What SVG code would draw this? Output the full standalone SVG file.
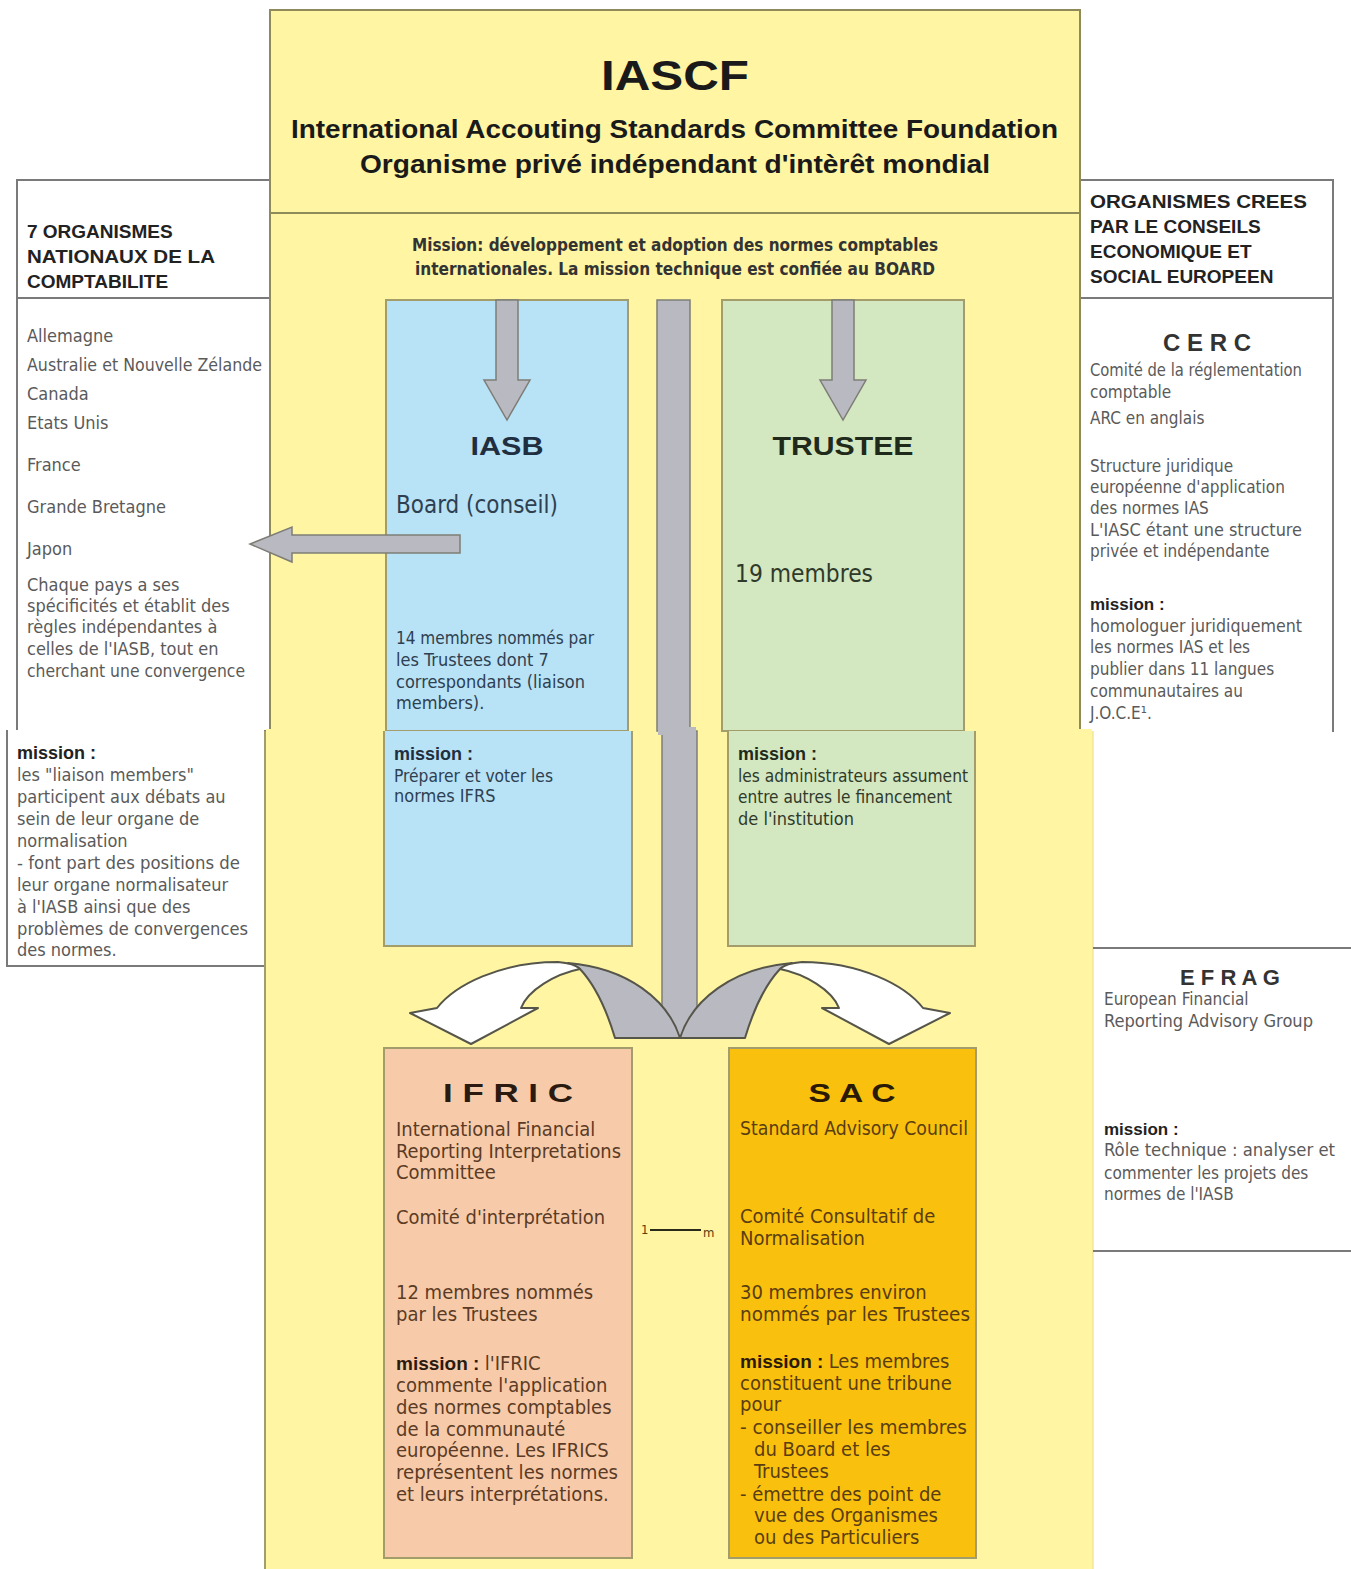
<svg xmlns="http://www.w3.org/2000/svg" width="1351" height="1569" viewBox="0 0 1351 1569">
<style>
.n{font-family:"Liberation Sans Narrow","DejaVu Sans Condensed","Liberation Sans",sans-serif}
.w{font-family:"Liberation Sans","DejaVu Sans",sans-serif}
.b{font-weight:bold}
.pan{fill:#fff;stroke:#7a7a7a;stroke-width:2}
.ph{fill:#222;font-size:19px}
.pb{fill:#5a5a5a;font-size:18px}
.ps{fill:#5a5a5a;font-size:17px}
.box{stroke:#a39d6c;stroke-width:2}
.arr{fill:#b9b9c1;stroke:#7d7d76;stroke-width:1.5}
.rib{fill:#ffffff;stroke:#55554a;stroke-width:2;stroke-linejoin:round}
.ribg{fill:#b9b9c1;stroke:#55554a;stroke-width:2;stroke-linejoin:round}
</style>
<rect width="1351" height="1569" fill="#fff"/>

<!-- left panel (nationaux) -->
<g id="nationaux">
<rect class="pan" x="17" y="180" width="253" height="551"/>
<line x1="17" y1="298" x2="270" y2="298" stroke="#7a7a7a" stroke-width="2"/>
<path d="M265 731 L7 731 L7 966 L265 966" class="pan"/>
<rect x="8" y="730" width="256" height="3" fill="#fff"/>
<text class="w b ph" x="27" y="238">7 ORGANISMES</text>
<text class="w b ph" x="27" y="263" textLength="188" lengthAdjust="spacingAndGlyphs">NATIONAUX DE LA</text>
<text class="w b ph" x="27" y="288">COMPTABILITE</text>
<g class="n pb">
<text x="27" y="342">Allemagne</text>
<text x="27" y="371" textLength="235" lengthAdjust="spacingAndGlyphs">Australie et Nouvelle Zélande</text>
<text x="27" y="400">Canada</text>
<text x="27" y="429">Etats Unis</text>
<text x="27" y="471">France</text>
<text x="27" y="513">Grande Bretagne</text>
<text x="27" y="555">Japon</text>
<text x="27" y="591">Chaque pays a ses</text>
<text x="27" y="612">spécificités et établit des</text>
<text x="27" y="633">règles indépendantes à</text>
<text x="27" y="655">celles de l'IASB, tout en</text>
<text x="27" y="677" textLength="218" lengthAdjust="spacingAndGlyphs">cherchant une convergence</text>
</g>
<g class="n pb">
<text x="17" y="759" class="w b" style="fill:#222;font-size:18px">mission :</text>
<text x="17" y="781">les "liaison members"</text>
<text x="17" y="803">participent aux débats au</text>
<text x="17" y="825">sein de leur organe de</text>
<text x="17" y="847">normalisation</text>
<text x="17" y="869" textLength="223" lengthAdjust="spacingAndGlyphs">- font part des positions de</text>
<text x="17" y="891">leur organe normalisateur</text>
<text x="17" y="913">à l'IASB ainsi que des</text>
<text x="17" y="935" textLength="231" lengthAdjust="spacingAndGlyphs">problèmes de convergences</text>
<text x="17" y="956">des normes.</text>
</g>
</g>

<!-- right panel (CERC) -->
<g id="cerc">
<rect class="pan" x="1080" y="180" width="253" height="551"/>
<line x1="1080" y1="298" x2="1333" y2="298" stroke="#7a7a7a" stroke-width="2"/>
<rect x="1081" y="729" width="251" height="4" fill="#fff"/>
<text class="w b ph" x="1090" y="208" textLength="217" lengthAdjust="spacingAndGlyphs">ORGANISMES CREES</text>
<text class="w b ph" x="1090" y="233">PAR LE CONSEILS</text>
<text class="w b ph" x="1090" y="258">ECONOMIQUE ET</text>
<text class="w b ph" x="1090" y="283">SOCIAL EUROPEEN</text>
<text class="w b" x="1207" y="351" text-anchor="middle" style="font-size:24px;fill:#333">C E R C</text>
<g class="n ps">
<text x="1090" y="376" textLength="212" lengthAdjust="spacingAndGlyphs">Comité de la réglementation</text>
<text x="1090" y="398">comptable</text>
<text x="1090" y="424">ARC en anglais</text>
<text x="1090" y="472">Structure juridique</text>
<text x="1090" y="493">européenne d'application</text>
<text x="1090" y="514">des normes IAS</text>
<text x="1090" y="536" textLength="212" lengthAdjust="spacingAndGlyphs">L'IASC étant une structure</text>
<text x="1090" y="557">privée et indépendante</text>
<text x="1090" y="610" class="w b" style="fill:#222;font-size:17px">mission :</text>
<text x="1090" y="632" textLength="212" lengthAdjust="spacingAndGlyphs">homologuer juridiquement</text>
<text x="1090" y="653">les normes IAS et les</text>
<text x="1090" y="675">publier dans 11 langues</text>
<text x="1090" y="697">communautaires au</text>
<text x="1090" y="719">J.O.C.E¹.</text>
</g>
</g>

<!-- main IASCF container -->
<g id="iascf">
<rect x="265" y="731" width="828" height="845" fill="#fff5a3"/>
<line x1="265" y1="731" x2="265" y2="1569" stroke="#a39d6c" stroke-width="2"/>
<line x1="1093" y1="731" x2="1093" y2="1569" stroke="#e6dc8c" stroke-width="1"/>
<rect x="270" y="10" width="810" height="721" fill="#fff5a3" stroke="#8f8a5a" stroke-width="2"/>
<rect x="266" y="729" width="826" height="4" fill="#fff5a3"/>
<line x1="270" y1="213" x2="1080" y2="213" stroke="#8f8a5a" stroke-width="2"/>
<text class="w b" x="675" y="90" text-anchor="middle" textLength="148" lengthAdjust="spacingAndGlyphs" style="font-size:42px;fill:#1a1a1a">IASCF</text>
<text class="w b" x="291" y="138" textLength="767" lengthAdjust="spacingAndGlyphs" style="font-size:25px;fill:#1a1a1a">International Accouting Standards Committee Foundation</text>
<text class="w b" x="360" y="173" textLength="630" lengthAdjust="spacingAndGlyphs" style="font-size:25px;fill:#1a1a1a">Organisme privé indépendant d'intèrêt mondial</text>
<text class="n b" x="412" y="251" textLength="526" lengthAdjust="spacingAndGlyphs" style="font-size:18px;fill:#333">Mission: développement et adoption des normes comptables</text>
<text class="n b" x="415" y="275" textLength="520" lengthAdjust="spacingAndGlyphs" style="font-size:18px;fill:#333">internationales. La mission technique est confiée au BOARD</text>
</g>

<!-- IASB -->
<g id="iasb">
<rect class="box" x="386" y="300" width="242" height="431" fill="#b8e2f6"/>
<path d="M384 731 L384 946 L632 946 L632 731" class="box" fill="#b8e2f6"/>
<text class="w b" x="507" y="455" text-anchor="middle" textLength="73" lengthAdjust="spacingAndGlyphs" style="font-size:25px;fill:#1f2f3f">IASB</text>
<text class="n" x="396" y="513" textLength="162" lengthAdjust="spacingAndGlyphs" style="font-size:25px;fill:#2e4050">Board (conseil)</text>
<g class="n" style="font-size:18px;fill:#2e4050">
<text x="396" y="644" textLength="198" lengthAdjust="spacingAndGlyphs">14 membres nommés par</text>
<text x="396" y="666">les Trustees  dont 7</text>
<text x="396" y="688">correspondants (liaison</text>
<text x="396" y="709">members).</text>
<text x="394" y="760" class="w b" style="fill:#1f2f3f">mission :</text>
<text x="394" y="782" textLength="159" lengthAdjust="spacingAndGlyphs">Préparer et voter les</text>
<text x="394" y="802">normes IFRS</text>
</g>
</g>

<!-- TRUSTEE -->
<g id="trustee">
<rect class="box" x="722" y="300" width="242" height="431" fill="#d3e7c1"/>
<path d="M728 731 L728 946 L975 946 L975 731" class="box" fill="#d3e7c1"/>
<text class="w b" x="843" y="455" text-anchor="middle" textLength="141" lengthAdjust="spacingAndGlyphs" style="font-size:25px;fill:#1f2a1a">TRUSTEE</text>
<text class="n" x="735" y="582" textLength="138" lengthAdjust="spacingAndGlyphs" style="font-size:25px;fill:#2f3a2a">19 membres</text>
<g class="n" style="font-size:18px;fill:#2f3a2a">
<text x="738" y="760" class="w b" style="fill:#1f2a1a">mission :</text>
<text x="738" y="782" textLength="230" lengthAdjust="spacingAndGlyphs">les administrateurs assument</text>
<text x="738" y="803" textLength="214" lengthAdjust="spacingAndGlyphs">entre autres le financement</text>
<text x="738" y="825">de l'institution</text>
</g>
</g>

<!-- EFRAG -->
<g id="efrag">
<line x1="1093" y1="948" x2="1351" y2="948" stroke="#7a7a7a" stroke-width="2"/>
<line x1="1093" y1="1251" x2="1351" y2="1251" stroke="#7a7a7a" stroke-width="2"/>
<rect x="1094" y="949" width="257" height="301" fill="#fff"/>
<text class="w b" x="1230" y="985" text-anchor="middle" style="font-size:22px;fill:#333">E F R A G</text>
<g class="n ps">
<text x="1104" y="1005">European Financial</text>
<text x="1104" y="1027" textLength="209" lengthAdjust="spacingAndGlyphs">Reporting Advisory Group</text>
<text x="1104" y="1135" class="w b" style="fill:#222;font-size:17px">mission :</text>
<text x="1104" y="1156" textLength="231" lengthAdjust="spacingAndGlyphs">Rôle technique : analyser et</text>
<text x="1104" y="1179">commenter les projets des</text>
<text x="1104" y="1200">normes de l'IASB</text>
</g>
</g>

<!-- IFRIC -->
<g id="ifric">
<rect class="box" x="384" y="1048" width="248" height="510" fill="#f7cbaa"/>
<text class="w b" x="508" y="1102" text-anchor="middle" textLength="130" lengthAdjust="spacingAndGlyphs" style="font-size:26px;fill:#2a1a10">I F R I C</text>
<g class="n" style="font-size:20px;fill:#5b3b25">
<text x="396" y="1136">International Financial</text>
<text x="396" y="1158" textLength="225" lengthAdjust="spacingAndGlyphs">Reporting Interpretations</text>
<text x="396" y="1179">Committee</text>
<text x="396" y="1224" textLength="209" lengthAdjust="spacingAndGlyphs">Comité d'interprétation</text>
<text x="396" y="1299">12 membres nommés</text>
<text x="396" y="1321">par les Trustees</text>
<text x="396" y="1370"><tspan class="w b" style="fill:#2a1a10;font-size:19px">mission : </tspan>l'IFRIC</text>
<text x="396" y="1392">commente l'application</text>
<text x="396" y="1414">des normes comptables</text>
<text x="396" y="1436">de la communauté</text>
<text x="396" y="1457">européenne. Les IFRICS</text>
<text x="396" y="1479" textLength="222" lengthAdjust="spacingAndGlyphs">représentent les normes</text>
<text x="396" y="1501">et leurs interprétations.</text>
</g>
</g>

<!-- SAC -->
<g id="sac">
<rect class="box" x="729" y="1048" width="247" height="510" fill="#f9c10e"/>
<text class="w b" x="852" y="1102" text-anchor="middle" textLength="87" lengthAdjust="spacingAndGlyphs" style="font-size:26px;fill:#2a1a05">S A C</text>
<g class="n" style="font-size:20px;fill:#5a3d10">
<text x="740" y="1135" textLength="228" lengthAdjust="spacingAndGlyphs">Standard Advisory Council</text>
<text x="740" y="1223">Comité Consultatif de</text>
<text x="740" y="1245">Normalisation</text>
<text x="740" y="1299">30 membres environ</text>
<text x="740" y="1321" textLength="230" lengthAdjust="spacingAndGlyphs">nommés par les Trustees</text>
<text x="740" y="1368"><tspan class="w b" style="fill:#2a1a05;font-size:19px">mission : </tspan>Les membres</text>
<text x="740" y="1390">constituent une tribune</text>
<text x="740" y="1411">pour</text>
<text x="740" y="1434" textLength="227" lengthAdjust="spacingAndGlyphs">- conseiller les membres</text>
<text x="754" y="1456">du Board et les</text>
<text x="754" y="1478">Trustees</text>
<text x="740" y="1501">- émettre des point de</text>
<text x="754" y="1522">vue des Organismes</text>
<text x="754" y="1544">ou des Particuliers</text>
</g>
</g>

<!-- connectors -->
<g id="connectors">
<polygon class="arr" points="496,300 518,300 518,380 530,380 507,420 484,380 496,380"/>
<polygon class="arr" points="832,300 854,300 854,380 866,380 843,420 820,380 832,380"/>
<polygon class="arr" points="460,535 292,535 292,527 250,544 292,562 292,553 460,553"/>
<rect x="657" y="300" width="33" height="431" fill="#b9b9c1" stroke="#7d7d76" stroke-width="1.5"/>
<rect x="662" y="731" width="35" height="307" fill="#b9b9c1" stroke="#7d7d76" stroke-width="1.5"/>
<rect x="658" y="727" width="38" height="8" fill="#b9b9c1"/>
<g id="split-left">
<path class="ribg" d="M568,963 C628,968 668,1000 680,1038 L615,1038 C606,1008 594,984 580,969 Z"/>
<path class="rib" d="M437,1008 C455,985 500,962 558,962 C570,963 576,965 580,969 C555,974 528,990 521,1008 L538,1008 L471,1044 L410,1013 Z"/>
</g>
<g id="split-right" transform="translate(1360,0) scale(-1,1)">
<path class="ribg" d="M568,963 C628,968 668,1000 680,1038 L615,1038 C606,1008 594,984 580,969 Z"/>
<path class="rib" d="M437,1008 C455,985 500,962 558,962 C570,963 576,965 580,969 C555,974 528,990 521,1008 L538,1008 L471,1044 L410,1013 Z"/>
</g>
<text class="n" x="641" y="1234" style="font-size:13px;fill:#5a3d10">1</text>
<line x1="650" y1="1230" x2="701" y2="1230" stroke="#2a2a1a" stroke-width="2"/>
<text class="n" x="703" y="1237" style="font-size:13px;fill:#5a3d10">m</text>
</g>
</svg>
